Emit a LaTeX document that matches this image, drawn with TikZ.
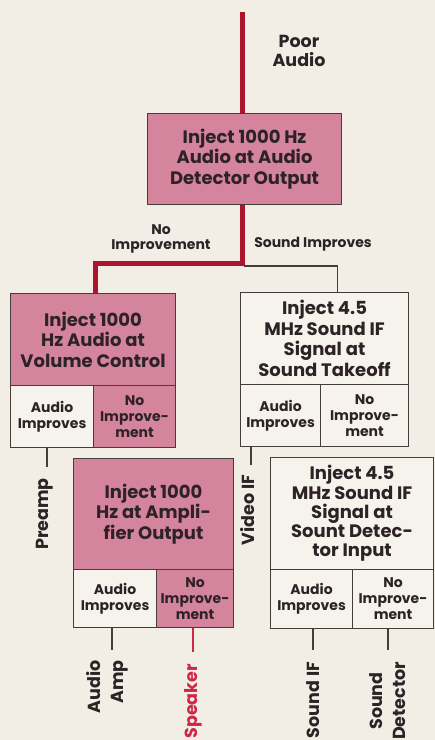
\documentclass[tikz,border=0pt]{standalone}
\usepackage{fontspec}
\setmainfont{Poppins}
\usetikzlibrary{calc}
\definecolor{bg}{RGB}{242,238,229}
\definecolor{pinkbox}{RGB}{213,132,158}
\definecolor{cellw}{RGB}{246,243,236}
\definecolor{redline}{RGB}{172,20,45}
\definecolor{ink}{RGB}{45,35,38}
\definecolor{edge}{RGB}{70,60,60}
\definecolor{spk}{RGB}{205,40,70}
\begin{document}
\begin{tikzpicture}[x=1pt,y=-1pt,
  box/.style={draw=edge, line width=1.1pt, anchor=north west, inner sep=0pt, align=center, text=ink, font=\bfseries\fontsize{18}{20.5}\selectfont},
  cell/.style={box, font=\bfseries\fontsize{14}{16}\selectfont},
  pinkf/.style={fill=pinkbox},
  whitef/.style={fill=cellw},
  redpath/.style={draw=redline, line width=5pt},
  thinline/.style={draw=edge, line width=1.1pt},
  lbl/.style={text=ink, font=\bfseries\fontsize{17.5}{19}\selectfont, align=center, inner sep=0pt},
  smlbl/.style={lbl, font=\bfseries\fontsize{14}{15}\selectfont},
  vlbl/.style={lbl, rotate=90, anchor=east, font=\bfseries\fontsize{17.5}{23}\selectfont}
]
\fill[bg] (0,0) rectangle (435,740);
\useasboundingbox (0,0) rectangle (435,740);

% boxes
\node[box,pinkf,minimum width=194pt,minimum height=91pt] (top) at (147,113) {Inject 1000 Hz\\Audio at Audio\\Detector Output};

\node[box,pinkf,minimum width=165pt,minimum height=92pt] (A) at (10,293) {Inject 1000\\Hz Audio at\\Volume Control};
\node[cell,whitef,minimum width=83pt,minimum height=62pt] (A1) at (10,385) {Audio\\Improves};
\node[cell,pinkf,minimum width=82pt,minimum height=62pt] (A2) at (93,385) {No\\Improve-\\ment};

\node[box,whitef,minimum width=168pt,minimum height=92pt] (B) at (240,292) {Inject 4.5\\MHz Sound IF\\Signal at\\Sound Takeoff};
\node[cell,whitef,minimum width=80pt,minimum height=62pt] (B1) at (240,384) {Audio\\Improves};
\node[cell,whitef,minimum width=88pt,minimum height=62pt] (B2) at (320,384) {No\\Improve-\\ment};

\node[box,pinkf,minimum width=160pt,minimum height=111pt] (C) at (73,458) {Inject 1000\\Hz at Ampli-\\fier Output};
\node[cell,whitef,minimum width=83pt,minimum height=58pt] (C1) at (73,569) {Audio\\Improves};
\node[cell,pinkf,minimum width=77pt,minimum height=58pt] (C2) at (156,569) {No\\Improve-\\ment};

\node[box,whitef,minimum width=163pt,minimum height=112pt,font=\bfseries\fontsize{18}{19.3}\selectfont] (D) at (270,457) {Inject 4.5\\MHz Sound IF\\Signal at\\Sount Detec-\\tor Input};
\node[cell,whitef,minimum width=82pt,minimum height=59pt] (D1) at (270,569) {Audio\\Improves};
\node[cell,whitef,minimum width=81pt,minimum height=59pt] (D2) at (352,569) {No\\Improve-\\ment};

% labels
\node[lbl] (poor) at (299,51) {Poor\\Audio};
\node[smlbl] (noimp) at (161,239) {No\\Improvement};
\node[smlbl] (sndimp) at (313,244) {Sound Improves};

\node[vlbl] (pre) at (45,478) {Preamp};
\node[vlbl] (vif) at (248,475) {Video IF};
\node[vlbl, align=right] (amp) at (107,660) {Audio\\Amp};
\node[vlbl, text=spk] (spkr) at (193,664) {Speaker};
\node[vlbl] (sif) at (313,662) {Sound IF};
\node[vlbl, align=center] (sdet) at (388,662) {Sound\\Detector};

% red signal path
\coordinate (s) at (242,12);
\coordinate (j) at (242,263);
\draw[redpath] (s) -- (s |- top.north);
\draw[redpath] (s |- top.south) -- (j) -| ($(A.north)+(2.5,0)$);
\draw[redpath] ($(A2.south)+(-6,0)$) -- ($(A2.south)+(-6,0)$ |- C.north);

% thin connectors
\coordinate (g) at (244,266);
\draw[thinline] (g) -| ($(B.north)+(13,0)$);
\draw[thinline] ($(B2.south)+(-7,0)$) -- ($(B2.south)+(-7,0)$ |- D.north);
\draw[thinline] (A1.south -| 47,0) -- (47,467);
\draw[thinline] (B1.south -| 251,0) -- (251,465);
\draw[thinline] (C1.south -| 112,0) -- (112,650);
\draw[draw=spk, line width=1.1pt] (C2.south -| 193,0) -- (193,652);
\draw[thinline] (D1.south -| 313,0) -- (313,650);
\draw[thinline] (D2.south -| 388,0) -- (388,650);
\end{tikzpicture}
\end{document}
